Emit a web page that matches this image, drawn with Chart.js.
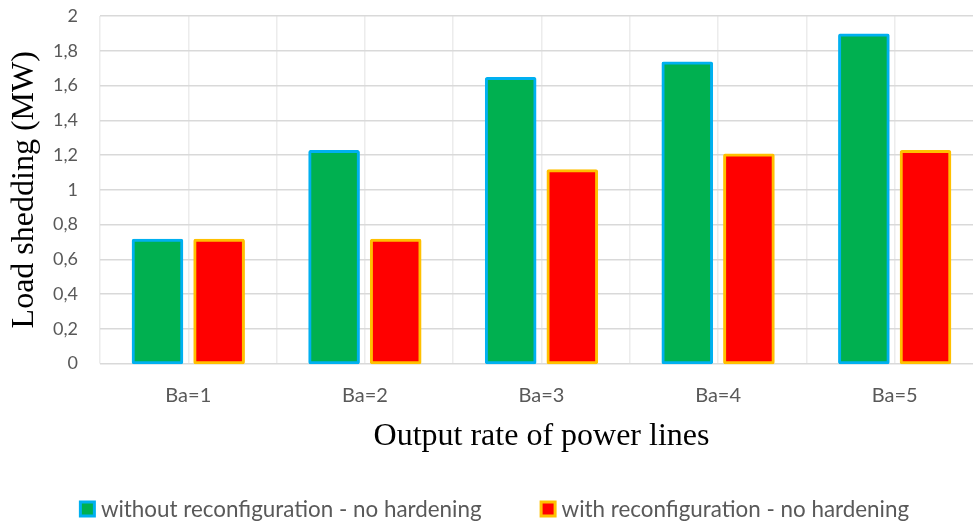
<!DOCTYPE html>
<html>
<head>
<meta charset="utf-8">
<script src="https://cdn.jsdelivr.net/npm/chart.js@4"></script>
<style>
  html, body { margin: 0; padding: 0; background: #fff; overflow: hidden; width: 973px; height: 524px; }
  #wrap { position: absolute; left: 0; top: 0; width: 988px; height: 524px; }
</style>
</head>
<body>
<div id="wrap"><canvas id="c" width="988" height="524"></canvas></div>
<script>
// Load shedding per output rate of power lines
const categories = ['Ba=1', 'Ba=2', 'Ba=3', 'Ba=4', 'Ba=5'];
const withoutReconfiguration = [0.71, 1.22, 1.64, 1.73, 1.89];
const withReconfiguration = [0.71, 0.71, 1.11, 1.2, 1.22];
const seriesNames = ['without reconfiguration - no hardening', 'with reconfiguration - no hardening'];
const yTickLabels = ['0', '0,2', '0,4', '0,6', '0,8', '1', '1,2', '1,4', '1,6', '1,8', '2'];

const TEXT_GRAY = '#595959';

// Legend row drawn under the axis title, centred on the canvas
const legendRow = {
  id: 'legendRow',
  afterDraw(chart) {
    const ctx = chart.ctx;
    const box = 14, bw = 3, gapText = 5, gapItem = 58;
    ctx.save();
    ctx.font = '22.4px Lato';
    const items = chart.data.datasets.map(ds => ({ ds, w: ctx.measureText(ds.label).width }));
    const total = items.reduce((s, it) => s + box + bw + gapText + it.w, 0) + gapItem * (items.length - 1);
    let x = chart.width / 2 - total / 2;
    const cy = 509;
    items.forEach(it => {
      ctx.fillStyle = it.ds.backgroundColor;
      ctx.fillRect(x + bw / 2, cy - box / 2, box, box);
      ctx.strokeStyle = it.ds.borderColor;
      ctx.lineWidth = bw;
      ctx.strokeRect(x + bw / 2, cy - box / 2, box, box);
      x += box + bw + gapText;
      ctx.fillStyle = TEXT_GRAY;
      ctx.textBaseline = 'alphabetic';
      ctx.textAlign = 'left';
      ctx.fillText(it.ds.label, x, 516.5);
      x += it.w + gapItem;
    });
    ctx.restore();
  }
};

function barSeries(label, values, fill, edge) {
  return {
    label: label,
    data: values,
    backgroundColor: fill,
    borderColor: edge,
    borderWidth: 3,
    borderSkipped: false,
    borderRadius: 2,
    inflateAmount: 1.5,
    categoryPercentage: 0.698,
    barPercentage: 0.789,
    clip: 4
  };
}

function draw() {
  new Chart(document.getElementById('c'), {
    type: 'bar',
    data: {
      labels: categories,
      datasets: [
        barSeries(seriesNames[0], withoutReconfiguration, '#00B050', '#00B0F0'),
        barSeries(seriesNames[1], withReconfiguration, '#FF0000', '#FFC000')
      ]
    },
    options: {
      responsive: false,
      animation: false,
      devicePixelRatio: 1,
      layout: { padding: { left: 0, right: 5, top: 16, bottom: 67.8 } },
      plugins: { legend: { display: false }, tooltip: { enabled: false } },
      scales: {
        x: {
          type: 'category',
          offset: true,
          grid: { offset: false, color: '#ececec', lineWidth: 1.5, drawTicks: false },
          border: { display: false },
          ticks: { color: TEXT_GRAY, font: { family: 'Lato', size: 20 }, padding: 20, maxRotation: 0 },
          title: {
            display: true,
            text: 'Output rate of power lines',
            color: '#000',
            font: { family: 'Liberation Serif', size: 32 },
            padding: { top: 0, bottom: 0 }
          },
          afterFit(s) { s.height = 92.7; }
        },
        xBounds: {
          type: 'category',
          position: 'top',
          offset: true,
          grid: { offset: true, color: '#ececec', lineWidth: 1.5, drawTicks: false },
          border: { display: false },
          ticks: { display: false },
          afterFit(s) { s.height = 0; }
        },
        y: {
          min: 0,
          max: 2,
          ticks: {
            stepSize: 0.2,
            color: TEXT_GRAY,
            font: { family: 'Lato', size: 18 },
            padding: 22,
            callback: (v, i) => yTickLabels[i]
          },
          grid: { color: '#d9d9d9', lineWidth: 1.5, drawTicks: false },
          border: { display: false },
          title: {
            display: true,
            text: 'Load shedding (MW)',
            color: '#000',
            font: { family: 'Liberation Serif', size: 32 },
            padding: { top: 5, bottom: 0 }
          },
          afterFit(s) {
            s.width = 100;
            s.paddingTop = 0;
            s.paddingBottom = 0;
          }
        }
      }
    },
    plugins: [legendRow]
  });
}

Promise.all([
  document.fonts.load('20px Lato'),
  document.fonts.load('32px "Liberation Serif"')
]).then(draw, draw);
</script>
</body>
</html>
